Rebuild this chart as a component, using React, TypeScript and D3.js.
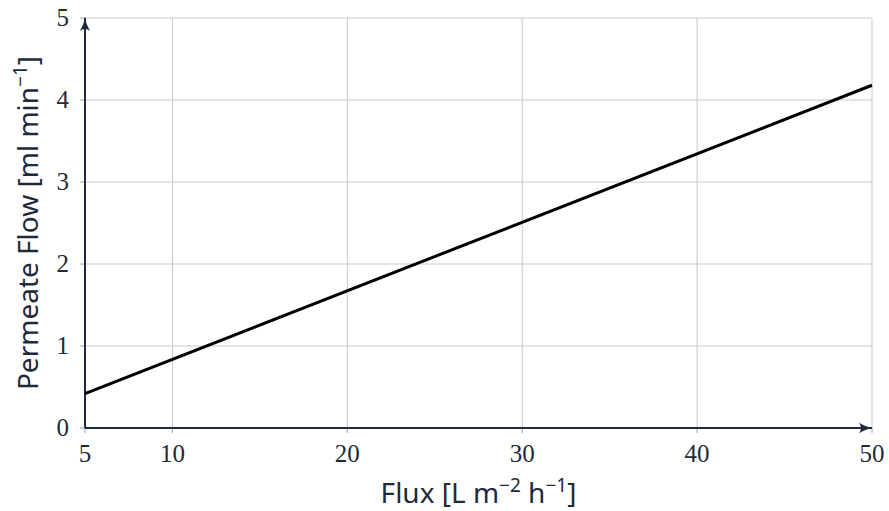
import * as d3 from "d3";
import React from "react";

// flux [L m-2 h-1] vs permeate flow [ml min-1]
const fluxValues = [5, 50];
const flowValues = [0.42, 4.18];
const xTicks = [5, 10, 20, 30, 40, 50];
const yTicks = [0, 1, 2, 3, 4, 5];

const W = 889;
const H = 511;
const margin = { top: 18, right: 17, bottom: 83, left: 85 };

const App = () => {
  const ref = React.useRef<SVGSVGElement>(null);

  React.useEffect(() => {
    const svg = d3.select(ref.current);
    svg.selectAll("*").remove();

    const x = d3
      .scaleLinear()
      .domain([5, 50])
      .range([margin.left, W - margin.right]);
    const y = d3
      .scaleLinear()
      .domain([0, 5])
      .range([H - margin.bottom, margin.top]);

    const axisColor = "#1f2a3a";
    const gridColor = "#c9c9c9";

    svg
      .append("defs")
      .append("marker")
      .attr("id", "arrow")
      .attr("viewBox", "0 0 12 10")
      .attr("refX", 11)
      .attr("refY", 5)
      .attr("markerWidth", 14)
      .attr("markerHeight", 12)
      .attr("markerUnits", "userSpaceOnUse")
      .attr("orient", "auto")
      .append("path")
      .attr("d", "M0,0.5 Q5,4 12,5 Q5,6 0,9.5 Q3,5 0,0.5 Z")
      .attr("fill", axisColor);

    const grid = svg.append("g");
    grid
      .selectAll("line.v")
      .data(xTicks.filter((d) => d !== 5))
      .enter()
      .append("line")
      .attr("x1", (d) => x(d))
      .attr("x2", (d) => x(d))
      .attr("y1", y(0))
      .attr("y2", y(5))
      .attr("stroke", gridColor)
      .attr("stroke-width", 1);
    grid
      .selectAll("line.h")
      .data(yTicks.filter((d) => d !== 0))
      .enter()
      .append("line")
      .attr("x1", x(5))
      .attr("x2", x(50))
      .attr("y1", (d) => y(d))
      .attr("y2", (d) => y(d))
      .attr("stroke", gridColor)
      .attr("stroke-width", 1);

    // small tick marks
    svg
      .append("g")
      .selectAll("line")
      .data(xTicks)
      .enter()
      .append("line")
      .attr("x1", (d) => x(d))
      .attr("x2", (d) => x(d))
      .attr("y1", y(0))
      .attr("y2", y(0) + 5)
      .attr("stroke", "#a0a0a0");
    svg
      .append("g")
      .selectAll("line")
      .data(yTicks)
      .enter()
      .append("line")
      .attr("x1", x(5) - 5)
      .attr("x2", x(5))
      .attr("y1", (d) => y(d))
      .attr("y2", (d) => y(d))
      .attr("stroke", "#a0a0a0");

    // axes with arrows
    svg
      .append("line")
      .attr("x1", x(5))
      .attr("x2", x(50))
      .attr("y1", y(0))
      .attr("y2", y(0))
      .attr("stroke", axisColor)
      .attr("stroke-width", 2)
      .attr("marker-end", "url(#arrow)");
    svg
      .append("line")
      .attr("x1", x(5))
      .attr("x2", x(5))
      .attr("y1", y(0))
      .attr("y2", y(5))
      .attr("stroke", axisColor)
      .attr("stroke-width", 2)
      .attr("marker-end", "url(#arrow)");

    // data line
    const line = d3
      .line<number>()
      .x((d, i) => x(fluxValues[i]))
      .y((d) => y(d));
    svg
      .append("path")
      .attr("d", line(flowValues))
      .attr("fill", "none")
      .attr("stroke", "#000")
      .attr("stroke-width", 3);

    // tick labels
    const serif = "'Liberation Serif', 'DejaVu Serif', serif";
    svg
      .append("g")
      .selectAll("text")
      .data(xTicks)
      .enter()
      .append("text")
      .attr("x", (d) => x(d))
      .attr("y", y(0) + 34)
      .attr("text-anchor", "middle")
      .attr("font-family", serif)
      .attr("font-size", 25)
      .attr("fill", axisColor)
      .text((d) => d);
    svg
      .append("g")
      .selectAll("text")
      .data(yTicks)
      .enter()
      .append("text")
      .attr("x", x(5) - 16)
      .attr("y", (d) => y(d) + 8)
      .attr("text-anchor", "end")
      .attr("font-family", serif)
      .attr("font-size", 25)
      .attr("fill", axisColor)
      .text((d) => d);

    // axis titles
    const sans = "'Noto Sans', Roboto, sans-serif";
    const xt = svg
      .append("text")
      .attr("x", (x(5) + x(50)) / 2)
      .attr("y", 503)
      .attr("text-anchor", "middle")
      .attr("font-family", sans)
      .attr("font-size", 28)
      .attr("fill", "#1f2a3a");
    xt.append("tspan").text("Flux [L m");
    xt.append("tspan").attr("dy", -11).attr("font-size", 19).text("\u22122");
    xt.append("tspan").attr("dy", 11).text(" h");
    xt.append("tspan").attr("dy", -11).attr("font-size", 19).text("\u22121");
    xt.append("tspan").attr("dy", 11).text("]");

    const yt = svg
      .append("text")
      .attr("transform", `translate(38, ${(y(0) + y(5)) / 2}) rotate(-90)`)
      .attr("text-anchor", "middle")
      .attr("font-family", sans)
      .attr("font-size", 28)
      .attr("fill", "#1f2a3a");
    yt.append("tspan").text("Permeate Flow [ml min");
    yt.append("tspan").attr("dy", -11).attr("font-size", 19).text("\u22121");
    yt.append("tspan").attr("dy", 11).text("]");
  }, []);

  return (
    <svg
      ref={ref}
      width={W}
      height={H}
      style={{ position: "absolute", left: 0, top: 0, background: "#fff" }}
    ></svg>
  );
};

export default App;
